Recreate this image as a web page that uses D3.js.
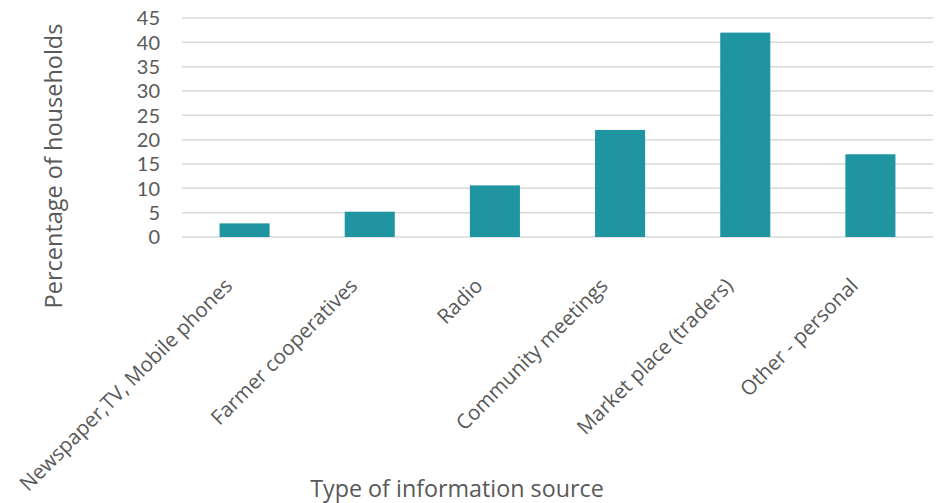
<!DOCTYPE html>
<html>
<head>
<meta charset="utf-8">
<script src="https://cdn.jsdelivr.net/npm/d3@7"></script>
<style>
  html, body { margin: 0; padding: 0; background: #fff; }
  svg { display: block; }
  text { font-family: "Open Sans", Lato, sans-serif; fill: #595959; }
  text.tick-label { font-family: Lato, "Open Sans", sans-serif; }
</style>
</head>
<body>
<svg id="chart" width="939" height="503"></svg>
<script>
// Information sources used by households (% of households)
const categories = [
  "Newspaper,TV, Mobile phones",
  "Farmer cooperatives",
  "Radio",
  "Community meetings",
  "Market place (traders)",
  "Other - personal"
];
const values = [2.8, 5.2, 10.6, 22, 42, 17];
const yTicks = [0, 5, 10, 15, 20, 25, 30, 35, 40, 45];
const xTitle = "Type of information source";
const yTitle = "Percentage of households";

const svg = d3.select("#chart");
const margin = { left: 182, right: 6, top: 18, bottom: 266 };
const width = 939, height = 503;

const x = d3.scaleBand()
  .domain(categories)
  .range([margin.left, width - margin.right])
  .padding(0);

const y = d3.scaleLinear()
  .domain([0, 45])
  .range([height - margin.bottom, margin.top]);

const barW = x.bandwidth() * 0.4;

// gridlines
svg.append("g")
  .selectAll("line")
  .data(yTicks)
  .join("line")
  .attr("x1", margin.left)
  .attr("x2", width - margin.right)
  .attr("y1", d => y(d))
  .attr("y2", d => y(d))
  .attr("stroke", "#d9d9d9")
  .attr("stroke-width", 1.5);

// y tick labels
svg.append("g")
  .selectAll("text")
  .data(yTicks)
  .join("text")
  .attr("class", "tick-label")
  .attr("x", 160)
  .attr("y", d => y(d))
  .attr("dy", "0.36em")
  .attr("text-anchor", "end")
  .style("font-size", "20px")
  .text(d => d);

// bars
svg.append("g")
  .selectAll("rect")
  .data(values)
  .join("rect")
  .attr("x", (d, i) => x(categories[i]) + (x.bandwidth() - barW) / 2)
  .attr("width", barW)
  .attr("y", d => y(d))
  .attr("height", d => y(0) - y(d))
  .attr("fill", "#2095a2");

// rotated category labels
svg.append("g")
  .selectAll("text")
  .data(categories)
  .join("text")
  .attr("transform", d => `translate(${x(d) + x.bandwidth() / 2 - 11},${y(0) + 50}) rotate(-45)`)
  .attr("text-anchor", "end")
  .style("font-size", "20.5px")
  .text(d => d);

// axis titles
svg.append("text")
  .attr("x", 457)
  .attr("y", 497)
  .attr("text-anchor", "middle")
  .style("font-size", "23.3px")
  .text(xTitle);

svg.append("text")
  .attr("transform", `translate(62,166) rotate(-90)`)
  .attr("text-anchor", "middle")
  .style("font-size", "23.5px")
  .text(yTitle);
</script>
</body>
</html>
